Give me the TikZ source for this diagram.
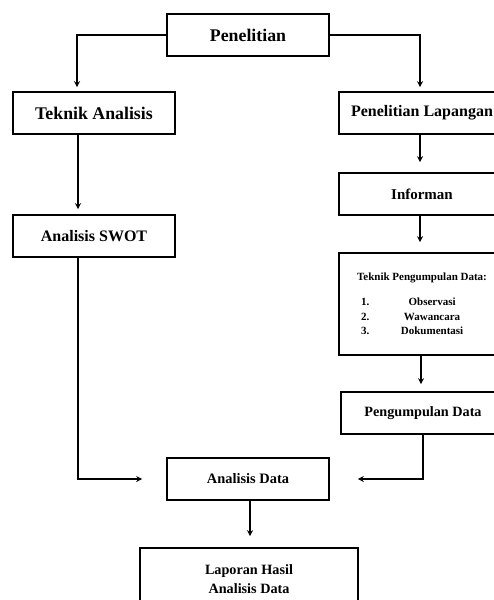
\documentclass[tikz,border=0pt]{standalone}
\usepackage{fontspec}
\setmainfont{Liberation Serif}
\usetikzlibrary{arrows.meta}
\tikzset{
  kotak/.style={draw, line width=0.8pt, align=center, inner sep=0pt},
  panah/.style={line width=0.8pt, -{Stealth[length=3pt,width=3pt]}},
}
\begin{document}
\begin{tikzpicture}[x=0.5pt,y=-0.5pt]
    \useasboundingbox (0,0) rectangle (493,600);
    \node[kotak, minimum width=81pt, minimum height=21pt, font=\bfseries\fontsize{8.9}{10}\selectfont] (penelitian) at (248,35) {Penelitian};
    \node[kotak, minimum width=81pt, minimum height=21pt, font=\bfseries\fontsize{8.9}{10}\selectfont] (teknikanalisis) at (94,113) {Teknik Analisis};
    \node[kotak, minimum width=83pt, minimum height=21pt, font=\bfseries\fontsize{8}{10}\selectfont] (lapangan) at (422,113) {Penelitian Lapangan};
    \node[kotak, minimum width=81pt, minimum height=21pt, font=\bfseries\fontsize{8}{10}\selectfont] (swot) at (94,236) {Analisis SWOT};
    \node[kotak, minimum width=83pt, minimum height=21pt, font=\bfseries\fontsize{7.5}{10}\selectfont] (informan) at (422,194) {Informan};
    \node[kotak, align=left, minimum width=83pt, minimum height=51pt, font=\bfseries\fontsize{5.5}{7.3}\selectfont] (teknik) at (422,304)
        {Teknik Pengumpulan Data:\\[5.2pt]
         \hspace*{2pt}\makebox[11pt][l]{1.}\makebox[49pt]{Observasi}\\
         \hspace*{2pt}\makebox[11pt][l]{2.}\makebox[49pt]{Wawancara}\\
         \hspace*{2pt}\makebox[11pt][l]{3.}\makebox[49pt]{Dokumentasi}};
    \node[kotak, minimum width=82pt, minimum height=21pt, font=\bfseries\fontsize{7.1}{10}\selectfont] (pengumpulan) at (423,413) {Pengumpulan Data};
    \node[kotak, minimum width=81pt, minimum height=21pt, font=\bfseries\fontsize{7.2}{10}\selectfont] (analisis) at (248,479) {Analisis Data};
    \node[kotak, minimum width=109pt, minimum height=31pt, font=\bfseries\fontsize{7.1}{9.5}\selectfont] (laporan) at (249,579) {Laporan Hasil\\Analisis Data};
    % alur kiri
    \draw[panah, shorten >=2pt] (penelitian.west) -| ([xshift=-8.5pt]teknikanalisis.north);
    \draw[panah, shorten >=2.5pt] ([xshift=-8pt]teknikanalisis.south) -- ([xshift=-8pt]swot.north);
    \draw[panah, shorten >=12pt] ([xshift=-8pt]swot.south) |- (analisis.west);
    % alur kanan
    \draw[panah, shorten >=2pt] (penelitian.east) -| ([xshift=-1pt]lapangan.north);
    \draw[panah, shorten >=5pt] ([xshift=-1pt]lapangan.south) -- ([xshift=-1pt]informan.north);
    \draw[panah, shorten >=5pt] ([xshift=-1pt]informan.south) -- ([xshift=-1pt]teknik.north);
    \draw[panah, shorten >=3.5pt] ([xshift=-0.5pt]teknik.south) -- ([xshift=-1pt]pengumpulan.north);
    \draw[panah, shorten >=14pt] (pengumpulan.south) |- (analisis.east);
    % hasil
    \draw[panah, shorten >=5.5pt] ([xshift=1pt]analisis.south) -- ([xshift=1pt]analisis.south |- laporan.north);
\end{tikzpicture}
\end{document}
